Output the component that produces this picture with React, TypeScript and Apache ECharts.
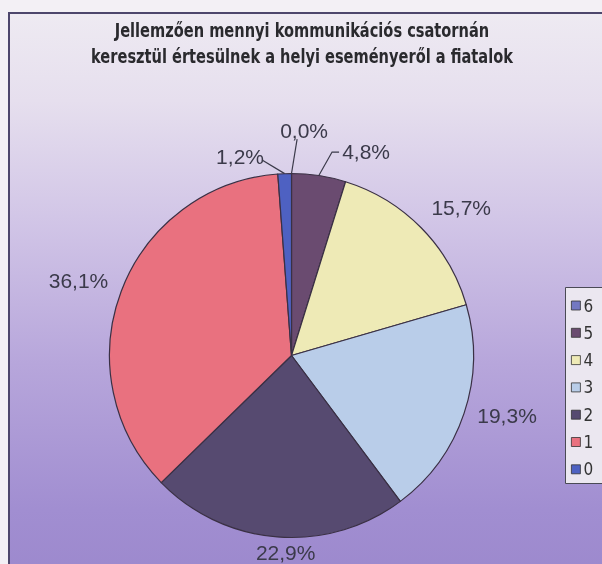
import React, { useEffect, useRef } from 'react';
import * as echarts from 'echarts';

// ---- data ----
const CATEGORIES = ['6', '5', '4', '3', '2', '1', '0'];
const VALUES = [0.0, 4.8, 15.7, 19.3, 22.9, 36.1, 1.2];
const COLORS = ['#7378c2', '#6a4b70', '#eeeab6', '#b9cde9', '#564a70', '#e9717f', '#4e61c2'];
const TITLE_LINES = [
  'Jellemzően mennyi kommunikációs csatornán',
  'keresztül értesülnek a helyi eseményeről a fiatalok',
];

// ---- layout / style ----
const W = 602;
const H = 564;
const CX = 291.5;
const CY = 355.5;
const R = 182;
// per label: [angle shift (deg) from slice middle, distance from centre]
const LABEL_PLACE: number[][] = [
  [3.2, 225.8],
  [11.4, 217.6],
  [3.3, 225.4],
  [-3.1, 223.6],
  [-2.8, 197],
  [-1.4, 225.7],
  [-12.3, 206],
];
// leader line end points relative to label centre (null = no leader)
const LEADERS: (number[][] | null)[] = [
  [[-7, 9], [-7, 9]],
  [[-34, 1], [-27, 1]],
  null,
  null,
  null,
  null,
  [[22, 4], [22, 4]],
];

function polar(deg: number, d: number): number[] {
  const a = (deg * Math.PI) / 180;
  return [CX + d * Math.sin(a), CY - d * Math.cos(a)];
}

const TITLE_FONT = '"Liberation Sans Narrow", "DejaVu Sans Condensed", sans-serif';

export default function App() {
  const ref = useRef<HTMLDivElement>(null);
  useEffect(() => {
    if (!ref.current) return;
    const chart = echarts.init(ref.current, undefined, { renderer: 'svg' });
    const total = VALUES.reduce((a, b) => a + b, 0);
    const mids: number[] = [];
    let acc = 0;
    VALUES.forEach((v) => {
      mids.push(((acc + v / 2) / total) * 360);
      acc += v;
    });
    const fmt = (v: number) => v.toFixed(1).replace('.', ',') + '%';

    chart.setOption({
      animation: false,
      color: COLORS,
      graphic: [
        { type: 'rect', z: 0, shape: { x: 0, y: 0, width: W, height: H }, style: { fill: '#f3f0f5' } },
        {
          type: 'rect',
          z: 1,
          shape: { x: 9, y: 13, width: W + 20, height: H + 20 },
          style: {
            fill: new echarts.graphic.LinearGradient(0, 0, 0, 1, [
              { offset: 0, color: '#eeeaf2' },
              { offset: 0.15, color: '#e6dfee' },
              { offset: 0.35, color: '#d2c6e7' },
              { offset: 0.6, color: '#b7a6db' },
              { offset: 0.85, color: '#a18ed1' },
              { offset: 1, color: '#9b87cc' },
            ]),
            stroke: '#4d466c',
            lineWidth: 2,
          },
        },
        {
          type: 'rect',
          z: 2,
          shape: { x: 565.5, y: 287.5, width: 60, height: 196 },
          style: { fill: '#ebe7f0', stroke: '#4a4a55', lineWidth: 1 },
        },
        ...TITLE_LINES.map((t, i) => ({
          type: 'text',
          z: 5,
          x: 302,
          y: 31 + i * 26,
          scaleX: 0.855,
          style: {
            text: t,
            fill: '#2a2a2e',
            font: `bold 19px ${TITLE_FONT}`,
            textAlign: 'center',
            textVerticalAlign: 'middle',
          },
        })),
      ],
      legend: {
        data: CATEGORIES,
        orient: 'vertical',
        left: 571,
        top: 297,
        itemWidth: 9,
        itemHeight: 9,
        itemGap: 10.3,
        icon: 'rect',
        padding: 0,
        itemStyle: { borderColor: '#333', borderWidth: 0.8 },
        textStyle: {
          fontFamily: TITLE_FONT,
          fontSize: 17,
          color: '#333',
          padding: [0, 0, 0, -2],
        },
        selectedMode: false,
      },
      series: [
        {
          type: 'pie',
          center: [CX, CY],
          radius: R,
          startAngle: 90,
          clockwise: true,
          avoidLabelOverlap: false,
          silent: true,
          emphasis: { disabled: true },
          itemStyle: { borderColor: '#3a3044', borderWidth: 1.2 },
          label: {
            show: true,
            position: 'outside',
            fontFamily: '"Liberation Sans", Arial, sans-serif',
            fontSize: 21,
            color: '#3b3a4a',
            formatter: (p: any) => fmt(p.value),
          },
          labelLine: { show: true, length: 10, length2: 5, lineStyle: { color: '#3b3a4a', width: 1.2 } },
          labelLayout: (p: any) => {
            const i = p.dataIndex;
            const [shift, dist] = LABEL_PLACE[i];
            const [x, y] = polar(mids[i] + shift, dist);
            const out: any = { x, y, align: 'center', verticalAlign: 'middle' };
            const lead = LEADERS[i];
            if (lead) {
              out.labelLinePoints = [polar(mids[i], R), ...lead.map(([dx, dy]) => [x + dx, y + dy])];
            }
            return out;
          },
          data: CATEGORIES.map((name, i) => ({
            name,
            value: VALUES[i],
            labelLine: { show: LEADERS[i] != null },
          })),
        },
      ],
    });
    return () => chart.dispose();
  }, []);
  return <div ref={ref} style={{ position: 'fixed', left: 0, top: 0, width: W, height: H }} />;
}
